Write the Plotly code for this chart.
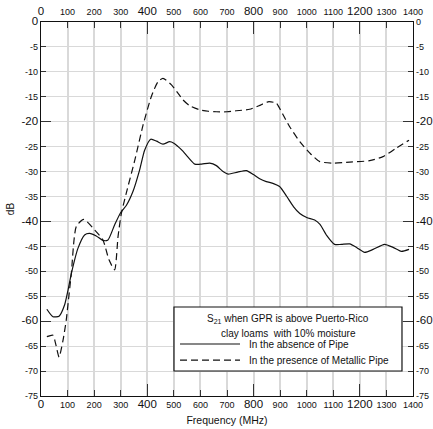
import plotly.graph_objects as go

# S21 (dB) versus frequency (MHz), GPR above Puerto-Rico clay loam, 10% moisture
freq_absent = [22, 45, 68, 89, 102, 114, 139, 164, 183, 208, 233, 252, 277, 300, 321,
               346, 371, 390, 413, 435, 459, 484, 500, 516, 534, 555, 579, 605, 635,
               660, 685, 704, 740, 773, 800, 825, 848, 875, 898, 925, 950, 974, 1000,
               1030, 1050, 1075, 1105, 1130, 1162, 1190, 1218, 1250, 1293, 1325, 1356, 1385]
db_absent = [-57.6, -59.1, -59.0, -56.7, -53.7, -50.5, -45.4, -42.7, -42.4, -42.9, -43.8,
             -43.7, -40.7, -38.2, -36.8, -34.0, -29.7, -25.7, -23.5, -23.9, -24.5, -24.0,
             -24.3, -25.0, -25.9, -27.2, -28.5, -28.5, -28.3, -28.8, -30.0, -30.5, -30.1,
             -29.8, -30.6, -31.5, -32.0, -32.4, -33.0, -35.0, -37.0, -38.4, -39.2, -39.7,
             -40.6, -42.8, -44.6, -44.6, -44.5, -45.3, -46.2, -45.6, -44.6, -45.2, -46.0, -45.6]

freq_metal = [22, 45, 55, 68, 83, 95, 102, 114, 133, 161, 202, 233, 256, 277, 290, 302,
              320, 353, 384, 415, 440, 459, 491, 516, 534, 560, 597, 630, 660, 700, 735,
              785, 820, 854, 875, 886, 910, 936, 974, 1012, 1049, 1099, 1162, 1237, 1287,
              1337, 1385]
db_metal = [-63.1, -62.8, -64.5, -67.2, -63.8, -59.8, -56.4, -50.5, -41.0, -39.6, -41.7,
            -43.7, -47.7, -49.7, -43.0, -38.5, -34.5, -27.7, -20.7, -15.0, -12.0, -11.3,
            -12.6, -14.3, -15.6, -16.8, -17.6, -17.9, -18.0, -18.0, -17.8, -17.5, -16.8,
            -16.0, -16.1, -16.3, -18.5, -21.0, -24.0, -26.3, -28.0, -28.3, -28.1, -27.8,
            -27.0, -25.3, -23.7]

x_ticks = list(range(0, 1401, 100))
x_major = [0, 400, 800, 1200]
y_ticks = list(range(-75, 1, 5))
y_major = [-60, -40, -20, 0]
y_major_right = [-60, -40, -20]

FONT = "Liberation Sans, Arial, Helvetica, sans-serif"


def labels(values, major):
    out = []
    for v in values:
        if v in major:
            out.append(f'<span style="font-size:11.5px">{v}</span>')
        else:
            out.append(str(v))
    return out


x_text = labels(x_ticks, x_major)
y_text = labels(y_ticks, y_major)
y_text_right = labels(y_ticks, y_major_right)

fig = go.Figure()
fig.add_trace(go.Scatter(x=freq_absent, y=db_absent, mode="lines",
                         line=dict(color="#111", width=1.2, shape="spline", smoothing=0.6),
                         name="In the absence of Pipe", showlegend=False))
fig.add_trace(go.Scatter(x=freq_metal, y=db_metal, mode="lines",
                         line=dict(color="#111", width=1.2, dash="7px,4px", shape="spline", smoothing=0.6),
                         name="In the presence of Metallic Pipe", showlegend=False))

# empty traces so the mirrored and long-tick axes get drawn
for xa, ya in [("x2", "y"), ("x3", "y"), ("x4", "y"), ("x", "y2"), ("x", "y3"), ("x", "y4")]:
    fig.add_trace(go.Scatter(x=[None], y=[None], xaxis=xa, yaxis=ya, mode="lines",
                             showlegend=False, hoverinfo="skip"))

xr = [0, 1400]
yr = [-75, 0]
tick_common = dict(ticks="inside", tickcolor="#333", tickwidth=1.2, automargin=False)

labelled_x = dict(range=xr, tickmode="array", tickvals=x_ticks, ticktext=x_text,
                  ticklen=6, tickfont=dict(size=9, family=FONT, color="#111"),
                  showline=True, linecolor="#111", linewidth=1.3, zeroline=False,
                  **tick_common)
labelled_y = dict(range=yr, tickmode="array", tickvals=y_ticks,
                  ticklen=5, tickfont=dict(size=9, family=FONT, color="#111"),
                  showline=True, linecolor="#111", linewidth=1.3, zeroline=False,
                  **tick_common)
long_x = dict(range=xr, tickmode="array", tickvals=x_major, ticklen=12,
              showticklabels=False, showline=False, showgrid=False, zeroline=False,
              overlaying="x", anchor="y", **tick_common)
long_y = dict(range=yr, tickmode="array", tickvals=y_major, ticklen=10,
              showticklabels=False, showline=False, showgrid=False, zeroline=False,
              overlaying="y", anchor="x", **tick_common)

fig.update_layout(
    width=433, height=429,
    margin=dict(l=41, r=20, t=22, b=33, autoexpand=False),
    paper_bgcolor="white", plot_bgcolor="white",
    font=dict(family=FONT, size=10, color="#111"),
    xaxis=dict(**labelled_x, showgrid=True, gridcolor="#d9d9d9", gridwidth=1.5,
               title=dict(text="Frequency (MHz)", font=dict(size=10.5), standoff=7)),
    xaxis2=dict(**labelled_x, overlaying="x", anchor="y", side="top", showgrid=False,
                ticklabelstandoff=2),
    xaxis3=dict(**long_x, side="bottom"),
    xaxis4=dict(**long_x, side="top"),
    yaxis=dict(**labelled_y, ticktext=y_text, showgrid=True, gridcolor="#d9d9d9",
               gridwidth=1.2, title=dict(text="dB", font=dict(size=10), standoff=4)),
    yaxis2=dict(**labelled_y, ticktext=y_text_right, overlaying="y", anchor="x",
                side="right", showgrid=False),
    yaxis3=dict(**long_y, side="left"),
    yaxis4=dict(**long_y, side="right"),
)

# Legend box with its caption and line samples
fig.add_shape(type="rect", xref="paper", yref="paper", x0=0.3575, x1=0.9704,
              y0=0.0668, y1=0.2380, line=dict(color="#111", width=1.2),
              fillcolor="white", layer="above")
fig.add_shape(type="line", xref="paper", yref="paper", x0=0.3737, x1=0.535,
              y0=0.139, y1=0.139, line=dict(color="#111", width=1.2))
fig.add_shape(type="line", xref="paper", yref="paper", x0=0.3737, x1=0.535,
              y0=0.096, y1=0.096, line=dict(color="#111", width=1.2, dash="7px,4px"))
legend_text = [
    ("S<sub>21</sub> when GPR is above Puerto-Rico", 0.664, 0.206, "center"),
    ("clay loams  with 10% moisture", 0.664, 0.168, "center"),
    ("In the absence of Pipe", 0.553, 0.139, "left"),
    ("In the presence of Metallic Pipe", 0.553, 0.096, "left"),
]
for txt, xp, yp, anchor in legend_text:
    fig.add_annotation(text=txt, xref="paper", yref="paper", x=xp, y=yp,
                       xanchor=anchor, yanchor="middle", showarrow=False,
                       font=dict(size=10, family=FONT, color="#111"))

fig.write_html("out.html")
